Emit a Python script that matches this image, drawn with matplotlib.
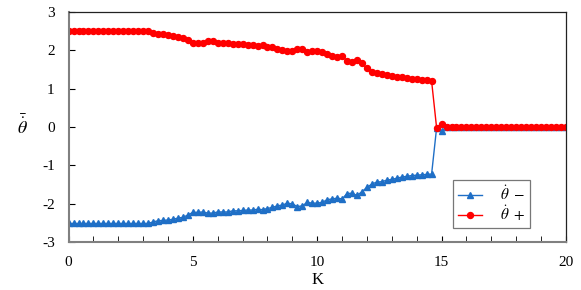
import numpy as np
import matplotlib
matplotlib.use('Agg')
import matplotlib.pyplot as plt
from matplotlib.ticker import MultipleLocator

plt.rcParams['font.family'] = 'Liberation Serif'
plt.rcParams['mathtext.fontset'] = 'stix'
plt.rcParams['axes.unicode_minus'] = False

# coupling strength K, step 0.2
K = np.round(np.arange(0, 20.01, 0.2), 1)

# theta_dot + (red circles)
theta_plus = [2.49] * 17 + [
    2.44, 2.43, 2.42, 2.40, 2.38, 2.35, 2.33, 2.27,            # 3.4 - 4.8
    2.20, 2.20, 2.19, 2.23, 2.24, 2.19, 2.19, 2.19, 2.16, 2.16,  # 5.0 - 6.8
    2.16, 2.14, 2.14, 2.11, 2.13, 2.09, 2.08, 2.03, 2.01, 1.97,  # 7.0 - 8.8
    1.99, 2.04, 2.03, 1.96, 1.98, 1.98, 1.96, 1.89, 1.86, 1.83,  # 9.0 - 10.8
    1.85, 1.72, 1.70, 1.74, 1.66, 1.53, 1.43, 1.40, 1.38, 1.35,  # 11.0 - 12.8
    1.33, 1.30, 1.29, 1.27, 1.26, 1.24, 1.23, 1.22, 1.19,        # 13.0 - 14.6
    -0.02, 0.07,                                                 # 14.8, 15.0
] + [0.0] * 25

# theta_dot - (blue triangles)
theta_minus = [-2.52] * 17 + [
    -2.48, -2.45, -2.44, -2.43, -2.41, -2.38, -2.36, -2.30,
    -2.23, -2.23, -2.22, -2.25, -2.25, -2.22, -2.22, -2.22, -2.19, -2.19,
    -2.18, -2.17, -2.17, -2.15, -2.16, -2.13, -2.10, -2.06, -2.04, -1.99,
    -2.01, -2.08, -2.06, -1.97, -1.99, -1.99, -1.97, -1.90, -1.88, -1.86,
    -1.88, -1.74, -1.73, -1.79, -1.69, -1.58, -1.49, -1.44, -1.43, -1.39,
    -1.37, -1.34, -1.31, -1.29, -1.27, -1.26, -1.25, -1.24, -1.23,
    -0.03, -0.10,
] + [0.0] * 25

fig = plt.figure(figsize=(5.81, 2.90), dpi=100)
ax = fig.add_axes([0.118, 0.166, 0.856, 0.793])

ax.plot(K, theta_minus, color='#1f6fc6', marker='^', markersize=4.8,
        linewidth=1, label=r'$\dot{\theta}\ -\;\;\;$')
ax.plot(K, theta_plus, color='#ff0000', marker='o', markersize=4.3,
        linewidth=1, label=r'$\dot{\theta}\ +\;\;\;$')

ax.set_xlim(0, 20)
ax.set_ylim(-3, 3)
ax.xaxis.set_major_locator(MultipleLocator(5))
ax.xaxis.set_minor_locator(MultipleLocator(1))
ax.yaxis.set_major_locator(MultipleLocator(1))

ax.tick_params(axis='both', which='both', direction='in', labelsize=11,
               top=False, right=False, color='black')
ax.tick_params(axis='x', which='major', length=4, pad=10)
ax.tick_params(axis='x', which='minor', length=4)
ax.tick_params(axis='y', which='major', length=4, pad=10)

for s in ['left', 'bottom']:
    ax.spines[s].set_color('#808080')
    ax.spines[s].set_linewidth(1.5)
for s in ['top', 'right']:
    ax.spines[s].set_color('#222222')
    ax.spines[s].set_linewidth(0.9)

ax.set_xlabel('K', fontsize=12, labelpad=2)
ax.set_ylabel(r'$\bar{\dot{\theta}}$', fontsize=13, rotation=0, labelpad=14,
              va='center')

leg = ax.legend(loc='lower left', bbox_to_anchor=(0.773, 0.06), fontsize=11,
                frameon=True, fancybox=False, edgecolor='#555555',
                handlelength=1.6, borderpad=0.3, labelspacing=0.05,
                handletextpad=1.2, borderaxespad=0)
leg.get_frame().set_linewidth(0.9)

fig.savefig('out.png', dpi=100)
